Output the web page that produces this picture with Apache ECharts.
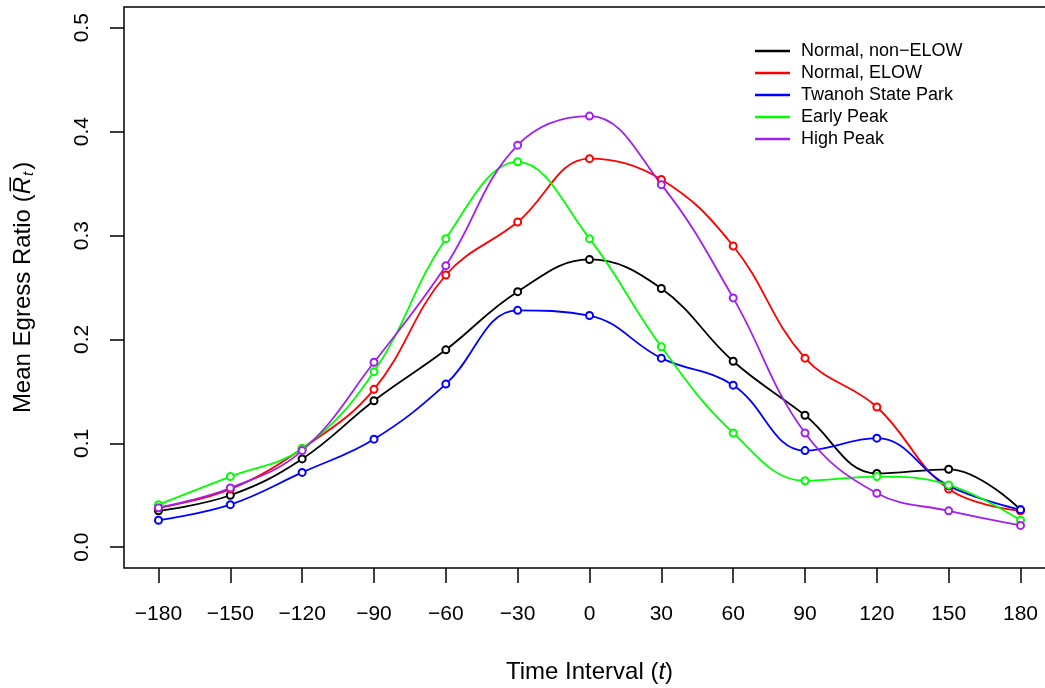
<!DOCTYPE html>
<html>
<head>
<meta charset="utf-8">
<script src="https://cdn.jsdelivr.net/npm/echarts@6/dist/echarts.min.js"></script>
<style>html,body{margin:0;padding:0;background:#fff;}#chart{width:1045px;height:688px;}</style>
</head>
<body>
<div id="chart"></div>
<script>
// ---- data ----
var timeIntervals = [-180, -150, -120, -90, -60, -30, 0, 30, 60, 90, 120, 150, 180];
var xTickValues = [-180, -150, -120, -90, -60, -30, 0, 30, 60, 90, 120, 150, 180];
var yTickValues = [0, 0.1, 0.2, 0.3, 0.4, 0.5];
var seriesNames = ['Normal, non\u2212ELOW', 'Normal, ELOW', 'Twanoh State Park', 'Early Peak', 'High Peak'];
var normalNonElow = [0.035, 0.050, 0.085, 0.141, 0.190, 0.246, 0.277, 0.249, 0.179, 0.127, 0.071, 0.075, 0.036];
var normalElow    = [0.038, 0.056, 0.095, 0.152, 0.262, 0.313, 0.374, 0.354, 0.290, 0.182, 0.135, 0.056, 0.035];
var twanoh        = [0.026, 0.041, 0.072, 0.104, 0.157, 0.228, 0.223, 0.182, 0.156, 0.093, 0.105, 0.059, 0.036];
var earlyPeak     = [0.041, 0.068, 0.095, 0.169, 0.297, 0.371, 0.297, 0.193, 0.110, 0.064, 0.068, 0.060, 0.026];
var highPeak      = [0.038, 0.057, 0.093, 0.178, 0.271, 0.387, 0.415, 0.349, 0.240, 0.110, 0.052, 0.035, 0.021];
var seriesValues = [normalNonElow, normalElow, twanoh, earlyPeak, highPeak];
var seriesColors = ['#000000', '#ff0000', '#0000ff', '#00ff00', '#a020f0'];

var FONT = '"Liberation Sans", Arial, sans-serif';

function pairs(xs, ys) { return xs.map(function (x, i) { return [x, ys[i]]; }); }

var series = seriesNames.map(function (name, k) {
  return {
    name: name,
    type: 'line',
    data: pairs(timeIntervals, seriesValues[k]),
    smooth: 0.4,
    symbol: 'emptyCircle',
    symbolSize: 7,
    showAllSymbol: true,
    lineStyle: { color: seriesColors[k], width: 1.8 },
    itemStyle: { color: seriesColors[k], borderColor: seriesColors[k], borderWidth: 1.1 },
    emphasis: { disabled: true }
  };
});

var chart = echarts.init(document.getElementById('chart'), null, { renderer: 'canvas' });
chart.setOption({
  animation: false,
  backgroundColor: '#ffffff',
  grid: { left: 124, top: 7, width: 931, height: 561, outerBoundsMode: 'none', containLabel: false, show: true, borderColor: '#000', borderWidth: 1.5, backgroundColor: 'transparent' },
  legend: {
    orient: 'vertical',
    left: 750,
    top: 35,
    icon: 'rect',
    itemWidth: 35,
    itemHeight: 2.5,
    itemGap: 0,
    itemStyle: { borderWidth: 0 },
    textStyle: { fontFamily: FONT, fontSize: 18, color: '#000', lineHeight: 22, padding: [0, 0, 0, 6] },
    data: seriesNames
  },
  xAxis: {
    type: 'value',
    min: -194.4,
    max: 194.4,
    axisLine: { show: false, onZero: false },
    splitLine: { show: false },
    axisTick: { show: true, length: 15, lineStyle: { color: '#000', width: 1.5 }, customValues: xTickValues },
    axisLabel: {
      customValues: xTickValues,
      margin: 36,
      fontFamily: FONT, fontSize: 21, color: '#000',
      formatter: function (v) { return v < 0 ? '\u2212' + (-v) : String(v); }
    },
    name: 'Time Interval ({i|t})',
    nameLocation: 'middle',
    nameGap: 92,
    nameTextStyle: { fontFamily: FONT, fontSize: 24, color: '#000', rich: { i: { fontFamily: FONT, fontSize: 24, fontStyle: 'italic', color: '#000' } } }
  },
  yAxis: {
    type: 'value',
    min: -0.02,
    max: 0.52,
    axisLine: { show: false, onZero: false },
    splitLine: { show: false },
    axisTick: { show: true, length: 14, lineStyle: { color: '#000', width: 1.5 }, customValues: yTickValues },
    axisLabel: {
      customValues: yTickValues,
      rotate: 90,
      margin: 31,
      fontFamily: FONT, fontSize: 21, color: '#000',
      formatter: function (v) { return v.toFixed(1); }
    },
    name: 'Mean Egress Ratio ({r|R\u0305}{s|t})',
    nameLocation: 'middle',
    nameRotate: 90,
    nameGap: 88,
    nameTextStyle: {
      fontFamily: FONT, fontSize: 24, color: '#000',
      rich: {
        r: { fontFamily: FONT, fontSize: 24, fontStyle: 'italic', color: '#000' },
        s: { fontFamily: FONT, fontSize: 15, fontStyle: 'italic', color: '#000', padding: [10, 2, 0, 1] }
      }
    }
  },
  series: series
});
</script>
</body>
</html>
